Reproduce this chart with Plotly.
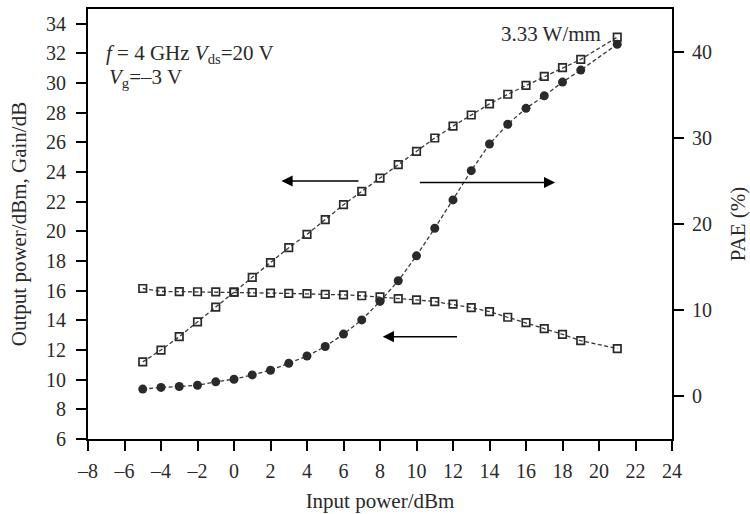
import plotly.graph_objects as go

# ---------------- data ----------------
pin = [-5, -4, -3, -2, -1, 0, 1, 2, 3, 4, 5, 6, 7, 8, 9, 10, 11, 12, 13, 14, 15, 16, 17, 18, 19, 21]
pout = [11.2, 12.0, 12.9, 13.9, 14.9, 15.9, 16.9, 17.9, 18.9, 19.8, 20.8, 21.8, 22.7, 23.6,
        24.5, 25.4, 26.3, 27.1, 27.85, 28.6, 29.25, 29.85, 30.45, 31.05, 31.6, 33.1]
gain = [16.15, 15.95, 15.94, 15.93, 15.92, 15.9, 15.88, 15.84, 15.82, 15.8, 15.76, 15.72, 15.66, 15.58,
        15.47, 15.38, 15.27, 15.09, 14.86, 14.59, 14.21, 13.85, 13.44, 13.06, 12.63, 12.1]
pae = [0.8, 1.0, 1.1, 1.25, 1.65, 1.95, 2.45, 3.0, 3.8, 4.65, 5.75, 7.2, 8.85, 11.0,
       13.4, 16.3, 19.5, 22.8, 26.2, 29.3, 31.6, 33.45, 34.9, 36.5, 37.9, 40.9]

x_ticks = [-8, -6, -4, -2, 0, 2, 4, 6, 8, 10, 12, 14, 16, 18, 20, 22, 24]
x_ticktext = ["\u20138", "\u20136", "\u20134", "\u20132", "0", "2", "4", "6", "8", "10",
              "12", "14", "16", "18", "20", "22", "24"]
y_ticks = [6, 8, 10, 12, 14, 16, 18, 20, 22, 24, 26, 28, 30, 32, 34]
y2_ticks = [0, 10, 20, 30, 40]

FONT = "Liberation Serif, Times New Roman, serif"
INK = "#2a2a2a"

fig = go.Figure()

line_style = dict(color="#3a3a3a", width=1.3, dash="4px,2.5px")
sq = dict(symbol="square-open", size=7.5, color=INK, line=dict(width=1.7, color=INK))
dot = dict(symbol="circle", size=9, color=INK)

fig.add_trace(go.Scatter(x=pin, y=pout, mode="lines+markers", line=line_style, marker=sq,
                         name="Output power", showlegend=False))
fig.add_trace(go.Scatter(x=pin, y=gain, mode="lines+markers", line=line_style, marker=sq,
                         name="Gain", showlegend=False))
fig.add_trace(go.Scatter(x=pin, y=pae, mode="lines+markers", line=line_style, marker=dot,
                         name="PAE", showlegend=False, yaxis="y2"))

axis_common = dict(showgrid=False, zeroline=False, showline=True, linecolor="black", linewidth=1.8,
                   ticks="outside", ticklen=10, tickwidth=1.5, tickcolor="black", automargin=False,
                   tickfont=dict(family=FONT, size=20, color=INK))

TFONT = dict(family=FONT, size=21, color=INK)

fig.update_layout(
    width=750, height=514,
    margin=dict(l=88, r=78, t=9, b=75),
    plot_bgcolor="white", paper_bgcolor="white",
    font=dict(family=FONT, size=20, color=INK),
    xaxis=dict(range=[-8, 24], tickvals=x_ticks, ticktext=x_ticktext, mirror=True,
               ticklabelstandoff=3,
               title=dict(text="Input power/dBm", font=TFONT, standoff=12),
               **axis_common),
    yaxis=dict(range=[6, 35], tickvals=y_ticks, ticklabelstandoff=6,
               title=dict(text="Output power/dBm, Gain/dB", font=TFONT, standoff=14),
               **axis_common),
    yaxis2=dict(range=[-5, 45], tickvals=y2_ticks, overlaying="y", side="right",
                ticklabelstandoff=4,
                title=dict(text="PAE (%)", font=TFONT, standoff=22),
                **axis_common),
)

# text annotations
AFONT = dict(family=FONT, size=21, color=INK)
fig.add_annotation(x=-7.1, y=31.95, xref="x", yref="y", xanchor="left", yanchor="middle", showarrow=False,
                   text="<i>f</i> = 4 GHz <i>V</i><sub>ds</sub>=20 V", font=AFONT)
fig.add_annotation(x=-6.95, y=30.35, xref="x", yref="y", xanchor="left", yanchor="middle", showarrow=False,
                   text="<i>V</i><sub>g</sub>=\u20133 V", font=AFONT)
fig.add_annotation(x=17.35, y=33.3, xref="x", yref="y", xanchor="center", yanchor="middle", showarrow=False,
                   text="3.33 W/mm", font=AFONT)

# arrows (tail -> head)
arrows = [((6.9, 23.4), (2.6, 23.4)), ((10.1, 23.3), (17.6, 23.3)), ((12.3, 12.9), (8.15, 12.9))]
for (tx, ty), (hx, hy) in arrows:
    fig.add_annotation(x=hx, y=hy, ax=tx, ay=ty, xref="x", yref="y", axref="x", ayref="y",
                       text="", showarrow=True, arrowhead=2, arrowsize=1.4, arrowwidth=1.6,
                       arrowcolor="black")

fig.write_html("out.html")
